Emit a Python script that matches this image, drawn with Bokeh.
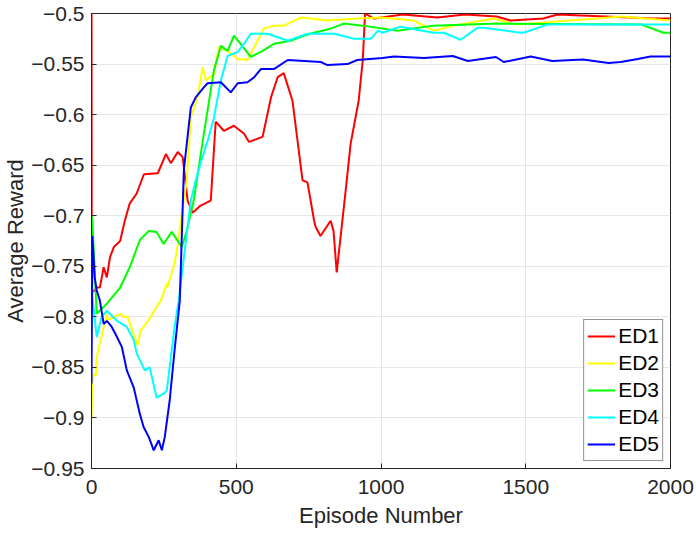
from bokeh.plotting import figure
from bokeh.models import Legend, LegendItem, FixedTicker, CustomJSTickFormatter, Range1d
from bokeh.embed import file_html
from bokeh.resources import INLINE

# ---- data ----
ed1_x = [0, 1, 3, 11, 18, 29, 42, 53, 64, 77, 99, 115, 132, 156, 181, 229, 257, 274, 298, 315, 332, 349,
         377, 412, 429, 457, 492, 527, 544, 591, 620, 643, 664, 694, 729, 746, 769, 774, 791, 826, 836, 847,
         878, 895, 923, 937, 945, 976, 1075, 1195, 1290, 1400, 1448, 1560, 1610, 1941, 2000]
ed1_y = [-0.5, -0.77, -0.775, -0.774, -0.771, -0.771, -0.751, -0.761, -0.741, -0.731, -0.725, -0.705,
         -0.688, -0.678, -0.659, -0.658, -0.639, -0.648, -0.637, -0.642, -0.685, -0.697, -0.690, -0.685,
         -0.607, -0.616, -0.611, -0.619, -0.627, -0.622, -0.583, -0.563, -0.559, -0.586, -0.665, -0.667,
         -0.705, -0.711, -0.72, -0.705, -0.715, -0.756, -0.675, -0.629, -0.586, -0.546, -0.5, -0.505,
         -0.501, -0.504, -0.501, -0.503, -0.507, -0.505, -0.501, -0.505, -0.505]

ed2_x = [0, 2, 8, 15, 18, 29, 32, 53, 56, 101, 111, 125, 156, 160, 170, 180, 205, 225, 240, 260, 262,
         287, 297, 312, 329, 343, 366, 384, 395, 423, 440, 470, 505, 539, 595, 630, 665, 723, 815, 918,
         1000, 1113, 1182, 1251, 1390, 1466, 1830, 2000]
ed2_y = [-0.90, -0.87, -0.856, -0.858, -0.84, -0.826, -0.823, -0.797, -0.803, -0.797, -0.80, -0.80,
         -0.826, -0.828, -0.813, -0.81, -0.80, -0.79, -0.784, -0.767, -0.771, -0.747, -0.731, -0.698,
         -0.665, -0.603, -0.583, -0.553, -0.566, -0.560, -0.533, -0.537, -0.545, -0.546, -0.515, -0.512,
         -0.512, -0.504, -0.507, -0.505, -0.504, -0.507, -0.517, -0.512, -0.505, -0.511, -0.503, -0.507]

ed3_x = [0, 3, 18, 53, 99, 132, 167, 198, 225, 249, 277, 312, 329, 353, 388, 423, 447, 470, 492, 515,
         550, 591, 630, 688, 733, 768, 826, 871, 937, 1057, 1180, 1400, 1900, 1976, 2000]
ed3_y = [-0.70, -0.705, -0.797, -0.787, -0.771, -0.751, -0.724, -0.715, -0.716, -0.728, -0.716, -0.731,
         -0.715, -0.685, -0.619, -0.556, -0.532, -0.537, -0.522, -0.530, -0.543, -0.537, -0.530, -0.527,
         -0.522, -0.519, -0.515, -0.510, -0.512, -0.517, -0.512, -0.510, -0.511, -0.519, -0.519]

ed4_x = [0, 3, 18, 35, 53, 88, 122, 146, 156, 184, 201, 225, 249, 260, 287, 301, 343, 360, 377, 401,
         423, 447, 470, 505, 527, 550, 609, 678, 746, 837, 907, 965, 990, 1005, 1067, 1182, 1217, 1275,
         1334, 1355, 1482, 1492, 1575, 2000]
ed4_y = [-0.72, -0.78, -0.82, -0.80, -0.794, -0.804, -0.81, -0.823, -0.836, -0.853, -0.85, -0.88,
         -0.876, -0.873, -0.81, -0.784, -0.685, -0.665, -0.648, -0.626, -0.603, -0.566, -0.542, -0.538,
         -0.530, -0.520, -0.520, -0.527, -0.520, -0.520, -0.525, -0.525, -0.517, -0.519, -0.513, -0.519,
         -0.519, -0.526, -0.514, -0.514, -0.519, -0.519, -0.511, -0.511]

ed5_x = [0, 3, 11, 18, 29, 42, 53, 70, 88, 105, 122, 146, 167, 180, 198, 215, 232, 243, 253, 270, 287,
         305, 319, 343, 360, 388, 401, 447, 481, 505, 539, 562, 585, 630, 678, 792, 815, 884, 918, 1005,
         1045, 1148, 1248, 1300, 1397, 1424, 1517, 1592, 1697, 1786, 1828, 1887, 1931, 2000]
ed5_y = [-0.866, -0.72, -0.761, -0.774, -0.784, -0.807, -0.804, -0.81, -0.82, -0.83, -0.853, -0.87,
         -0.896, -0.909, -0.919, -0.932, -0.922, -0.932, -0.919, -0.883, -0.833, -0.784, -0.655, -0.593,
         -0.583, -0.573, -0.569, -0.568, -0.578, -0.569, -0.568, -0.563, -0.555, -0.555, -0.546, -0.548,
         -0.551, -0.550, -0.546, -0.544, -0.5425, -0.544, -0.542, -0.547, -0.543, -0.548, -0.5425,
         -0.547, -0.5455, -0.549, -0.548, -0.545, -0.5425, -0.5425]

series_names = ["ED1", "ED2", "ED3", "ED4", "ED5"]
series_x = [ed1_x, ed2_x, ed3_x, ed4_x, ed5_x]
series_y = [ed1_y, ed2_y, ed3_y, ed4_y, ed5_y]
colors = ["#ff0000", "#ffff00", "#00ff00", "#00ffff", "#0000ff"]

x_ticks = [0, 500, 1000, 1500, 2000]
y_ticks = [-0.95, -0.9, -0.85, -0.8, -0.75, -0.7, -0.65, -0.6, -0.55, -0.5]

FONT = "Liberation Sans"
TXT = "#262626"

p = figure(width=696, height=535, output_backend="svg", toolbar_location=None,
           x_range=Range1d(0, 2000), y_range=Range1d(-0.95, -0.5),
           min_border_left=91, min_border_right=26, min_border_top=13, min_border_bottom=67)
p.background_fill_color = "white"
p.border_fill_color = "white"
p.outline_line_color = "#262626"
p.outline_line_width = 1

for ax in (p.xaxis[0], p.yaxis[0]):
    ax.major_label_text_font = FONT
    ax.major_label_text_font_size = "21px"
    ax.major_label_text_color = TXT
    ax.axis_label_text_font = FONT
    ax.axis_label_text_font_size = "22px"
    ax.axis_label_text_font_style = "normal"
    ax.axis_label_text_color = TXT
    ax.axis_line_color = "#262626"
    ax.major_tick_line_color = "#262626"
    ax.major_tick_in = 5
    ax.major_tick_out = 0
    ax.minor_tick_line_color = None

p.xaxis[0].ticker = FixedTicker(ticks=x_ticks)
p.yaxis[0].ticker = FixedTicker(ticks=y_ticks)
p.yaxis[0].formatter = CustomJSTickFormatter(
    code="return tick.toFixed(2).replace(/0$/, '').replace(/\\.$/, '').replace('-', '\\u2212');")
p.xaxis[0].axis_label = "Episode Number"
p.yaxis[0].axis_label = "Average Reward"
p.xaxis[0].major_label_standoff = 11
p.yaxis[0].major_label_standoff = 7
p.xaxis[0].axis_label_standoff = 6
p.yaxis[0].axis_label_standoff = 0

p.xgrid.ticker = FixedTicker(ticks=x_ticks)
p.ygrid.ticker = FixedTicker(ticks=y_ticks)
p.grid.grid_line_color = "#e6e6e6"
p.grid.grid_line_width = 1

items = []
for name, xs, ys, c in zip(series_names, series_x, series_y, colors):
    r = p.line(xs, ys, line_color=c, line_width=2)
    items.append(LegendItem(label=name, renderers=[r]))

legend = Legend(items=items, location="bottom_right")
legend.label_text_font = FONT
legend.label_text_font_size = "21px"
legend.label_text_color = "black"
legend.border_line_color = "#262626"
legend.border_line_width = 1
legend.background_fill_color = "white"
legend.background_fill_alpha = 1
legend.glyph_width = 28
legend.glyph_height = 26
legend.label_height = 26
legend.spacing = 1
legend.padding = 3
legend.margin = 7
legend.label_standoff = 3
p.add_layout(legend)

open("out.html", "w").write(file_html(p, INLINE))
